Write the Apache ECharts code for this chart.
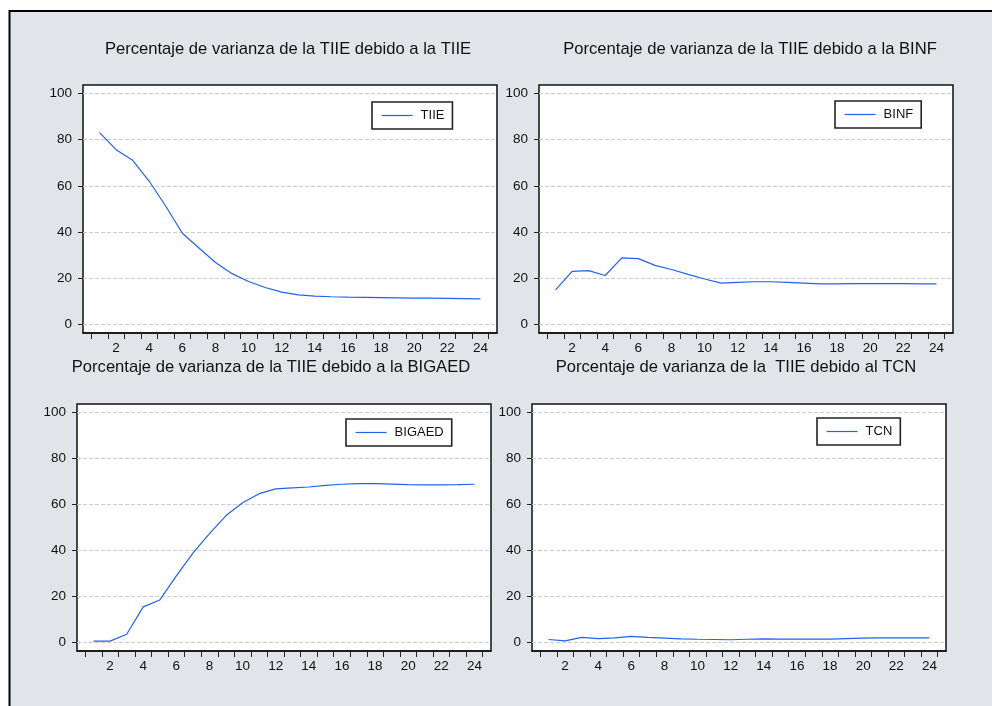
<!DOCTYPE html>
<html>
<head>
<meta charset="utf-8">
<script src="https://cdn.jsdelivr.net/npm/echarts@6/dist/echarts.min.js"></script>
<style>
  html, body { margin: 0; padding: 0; background: #ffffff; }
  #chart { width: 992px; height: 706px; }
</style>
</head>
<body>
<div id="chart"></div>
<script>
// Forecast horizon (periods) and variance-decomposition shares (%)
const periods = [1, 2, 3, 4, 5, 6, 7, 8, 9, 10, 11, 12, 13, 14, 15, 16, 17, 18, 19, 20, 21, 22, 23, 24];
const tiie   = [83.1, 75.7, 71.1, 62.0, 51.2, 39.5, 33.1, 26.8, 22.0, 18.6, 16.0, 14.0, 12.8, 12.3, 12.0, 11.8, 11.7, 11.6, 11.5, 11.4, 11.4, 11.3, 11.2, 11.1];
const binf   = [15.0, 23.0, 23.3, 21.2, 28.8, 28.5, 25.6, 23.8, 21.7, 19.7, 17.9, 18.2, 18.5, 18.5, 18.2, 17.9, 17.6, 17.6, 17.7, 17.7, 17.7, 17.7, 17.6, 17.6];
const bigaed = [0.6, 0.6, 3.6, 15.5, 18.5, 29.0, 38.9, 47.3, 55.2, 60.8, 64.7, 66.8, 67.2, 67.6, 68.3, 68.8, 69.1, 69.1, 68.9, 68.6, 68.5, 68.5, 68.6, 68.8];
const tcn    = [1.3, 0.7, 2.2, 1.7, 2.0, 2.7, 2.2, 1.9, 1.6, 1.4, 1.3, 1.2, 1.4, 1.6, 1.5, 1.5, 1.5, 1.5, 1.7, 1.9, 2.0, 2.0, 2.0, 2.0];

// Axis tick labels
const yTickValues = [0, 20, 40, 60, 80, 100];
const xLabelValues = [2, 4, 6, 8, 10, 12, 14, 16, 18, 20, 22, 24];

const seriesNames = ['TIIE', 'BINF', 'BIGAED', 'TCN'];
const seriesValues = [tiie, binf, bigaed, tcn];
const panelTitles = [
  'Percentaje de varianza de la TIIE debido a la TIIE',
  'Porcentaje de varianza de la TIIE debido a la BINF',
  'Porcentaje de varianza de la TIIE debido a la BIGAED',
  'Porcentaje de varianza de la  TIIE debido al TCN'
];

// Layout of the four panels (plot boxes, titles, legends)
const panels = [
  { left: 83,  top: 85,  width: 414, height: 248, titleX: 288, titleY: 49.5, legLeft: 372, legTop: 102 },
  { left: 539, top: 85,  width: 414, height: 248, titleX: 750, titleY: 49.5, legLeft: 835, legTop: 101 },
  { left: 77,  top: 404, width: 414, height: 247, titleX: 271, titleY: 367,  legLeft: 346, legTop: 419 },
  { left: 532, top: 404, width: 414, height: 247, titleX: 736, titleY: 367,  legLeft: 817, legTop: 418 }
];

const FONT = '"Liberation Sans", Arial, Helvetica, sans-serif';
const LINE_COLOR = '#2262ee';
const BG = '#e1e5e9';

// Category boundaries carry the tick marks
const xTickValues = periods.map(p => p - 0.5).concat([periods[periods.length - 1] + 0.5]);

const grids = [], xAxes = [], yAxes = [], series = [], legends = [];
const graphics = [
  { type: 'rect', z: -10, silent: true,
    shape: { x: 9.5, y: 11, width: 1000, height: 720 },
    style: { fill: BG, stroke: '#000', lineWidth: 2 } }
];

panels.forEach((p, i) => {
  grids.push({
    left: p.left, top: p.top, width: p.width, height: p.height,
    show: true, backgroundColor: '#ffffff', borderColor: '#111', borderWidth: 1.5,
    containLabel: false
  });
  xAxes.push({
    gridIndex: i, type: 'value', min: 0, max: 25,
    axisLine: { show: true, onZero: false, lineStyle: { color: '#111', width: 1.5 } },
    axisTick: { show: true, customValues: xTickValues, length: 6, lineStyle: { color: '#222', width: 1 } },
    axisLabel: { show: true, customValues: xLabelValues, margin: 8, color: '#111', fontSize: 13.5, fontFamily: FONT },
    splitLine: { show: false }
  });
  yAxes.push({
    gridIndex: i, type: 'value', min: -3.7, max: 103.7,
    axisLine: { show: false },
    axisTick: { show: true, customValues: yTickValues, length: 5, lineStyle: { color: '#222', width: 1 } },
    axisLabel: { show: true, customValues: yTickValues, margin: 11, color: '#111', fontSize: 13.5, fontFamily: FONT },
    splitLine: { show: true, lineStyle: { color: '#cccccc', width: 1, type: [4, 2] } }
  });
  series.push({
    name: seriesNames[i], type: 'line', xAxisIndex: i, yAxisIndex: i,
    symbol: 'none', silent: true, animation: false,
    lineStyle: { color: LINE_COLOR, width: 1.2 },
    itemStyle: { color: LINE_COLOR },
    data: periods.map((per, k) => [per, seriesValues[i][k]])
  });
  legends.push({
    data: [seriesNames[i]], left: p.legLeft, top: p.legTop, orient: 'horizontal',
    padding: [7, 8, 7, 9], itemWidth: 31, itemHeight: 14,
    backgroundColor: '#ffffff', borderColor: '#222', borderWidth: 1.6, borderRadius: 0,
    selectedMode: false,
    itemStyle: { opacity: 0 },
    lineStyle: { color: LINE_COLOR, width: 1.2, opacity: 1 },
    textStyle: { color: '#111', fontSize: 13, fontFamily: FONT, padding: [0, 0, 0, 3] }
  });
  graphics.push({
    type: 'text', x: p.titleX, y: p.titleY, silent: true,
    style: { text: panelTitles[i], fill: '#111', font: '16.6px ' + FONT, textAlign: 'center', textVerticalAlign: 'middle' }
  });
});

const chart = echarts.init(document.getElementById('chart'), null, { renderer: 'canvas' });
chart.setOption({
  backgroundColor: '#ffffff',
  animation: false,
  graphic: graphics,
  grid: grids,
  xAxis: xAxes,
  yAxis: yAxes,
  legend: legends,
  series: series
});
</script>
</body>
</html>
